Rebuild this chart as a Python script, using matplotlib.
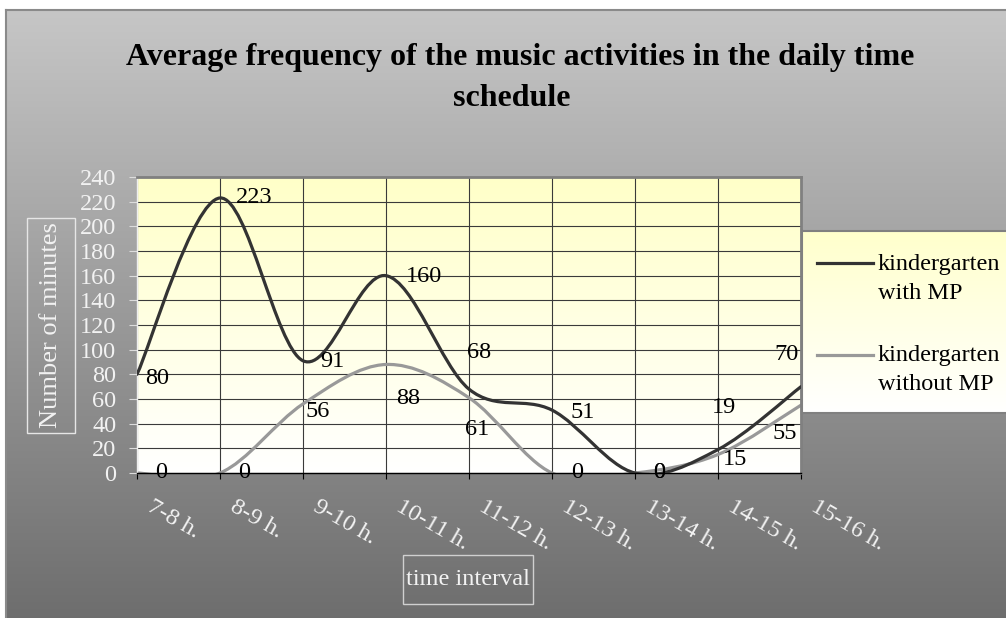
import numpy as np
import matplotlib
matplotlib.use("Agg")
import matplotlib.pyplot as plt
import matplotlib.transforms as mtransforms
from matplotlib.path import Path
from matplotlib.patches import PathPatch, Rectangle
from matplotlib.colors import LinearSegmentedColormap

W, H = 1006, 618

# data
intervals = ["7-8 h.", "8-9 h.", "9-10 h.", "10-11 h.", "11-12 h.",
             "12-13 h.", "13-14 h.", "14-15 h.", "15-16 h."]
with_mp = [80, 223, 91, 160, 68, 51, 0, 19, 70]
without_mp = [0, 0, 56, 88, 61, 0, 0, 15, 55]
series_names = ["kindergarten\nwith MP", "kindergarten\nwithout MP"]
y_ticks = list(range(0, 241, 20))

# where each value label sits, pixels from its point (dx, dy)
with_mp_offsets = [(20, -4), (34, 0), (29, -1), (38, -1), (10, 37),
                   (31, -2), (24, 0), (6, 42), (-14, 32)]
without_mp_offsets = [(24, 0), (24, 0), (15, -8), (22, -34), (8, -32),
                      (25, 0), (24, 0), (17, -5), (-16, -28)]

FONT = "Liberation Serif"
FS = 17.5
LIGHT = "#f2f2f2"


def px_rect(x0, y0, x1, y1):
    # pixel box (top-left origin) -> figure rect
    return [x0 / W, 1 - y1 / H, (x1 - x0) / W, (y1 - y0) / H]


def smooth_path(ys):
    # Excel-like smoothed line: cubic bezier through every point
    pts = np.column_stack([np.arange(len(ys)), ys]).astype(float)
    padded = np.vstack([pts[0], pts, pts[-1]])
    verts = [pts[0]]
    codes = [Path.MOVETO]
    for i in range(len(pts) - 1):
        p0, p1, p2, p3 = padded[i], padded[i + 1], padded[i + 2], padded[i + 3]
        verts += [p1 + (p2 - p0) / 6, p2 - (p3 - p1) / 6, p2]
        codes += [Path.CURVE4] * 3
    return Path(verts, codes)


def gradient(axis, top, bottom, extent):
    cmap = LinearSegmentedColormap.from_list("g", [top, bottom])
    axis.imshow(np.linspace(0, 1, 256).reshape(-1, 1), cmap=cmap, aspect="auto",
                extent=extent, origin="upper", zorder=0, interpolation="bilinear")


plt.rcParams["font.family"] = [FONT, "DejaVu Serif"]

fig = plt.figure(figsize=(W / 100, H / 100), dpi=100)
fig.patch.set_facecolor("white")

# chart area background
bg = fig.add_axes(px_rect(6, 10, W + 40, H + 40))
gradient(bg, "#c6c6c6", "#686868", (0, 1, 0, 1))
bg.set_xlim(0, 1)
bg.set_ylim(0, 1)
bg.set_xticks([])
bg.set_yticks([])
for side in ["right", "bottom"]:
    bg.spines[side].set_visible(False)
for side in ["top", "left"]:
    bg.spines[side].set_color("#8a8a8a")
    bg.spines[side].set_linewidth(1.5)

# title
fig.text(520 / W, 1 - 57 / H, "Average frequency of the music activities in the daily time",
         ha="center", va="center", fontsize=23, fontweight="bold", color="black")
fig.text(512 / W, 1 - 98 / H, "schedule",
         ha="center", va="center", fontsize=23, fontweight="bold", color="black")

# plot area
ax = fig.add_axes(px_rect(137, 177, 801, 473))
gradient(ax, "#ffffc8", "#ffffff", (0, len(intervals) - 1, 0, 240))
ax.set_xlim(0, len(intervals) - 1)
ax.set_ylim(0, 240)
ax.set_axisbelow(True)
ax.grid(True, color="#3a3a3a", linewidth=0.8)

ax.add_patch(PathPatch(smooth_path(with_mp), fill=False, edgecolor="#333333",
                       linewidth=2.3, zorder=3, capstyle="round"))
ax.add_patch(PathPatch(smooth_path(without_mp), fill=False, edgecolor="#999999",
                       linewidth=2.3, zorder=2, capstyle="round"))

for vals, offs in [(with_mp, with_mp_offsets), (without_mp, without_mp_offsets)]:
    for i, (v, (dx, dy)) in enumerate(zip(vals, offs)):
        ax.annotate(str(v), xy=(i, v), xytext=(dx, dy), textcoords="offset pixels",
                    ha="center", va="center", fontsize=FS, color="black",
                    annotation_clip=False, zorder=5)

ax.set_yticks(y_ticks)
ax.set_xticks(range(len(intervals)))
ax.set_xticklabels(intervals, rotation=-30, ha="left", va="top",
                   rotation_mode="anchor")
ax.tick_params(axis="y", direction="out", length=6, width=0.8, color="#dddddd",
               labelcolor=LIGHT, labelsize=FS, pad=9)
ax.tick_params(axis="x", direction="out", length=4.5, width=0.8, color="black",
               labelcolor=LIGHT, labelsize=FS, pad=12)
shift = mtransforms.ScaledTranslation(17 / 100, 0, fig.dpi_scale_trans)
for lab in ax.get_xticklabels():
    lab.set_transform(lab.get_transform() + shift)

ax.spines["top"].set_color("#808080")
ax.spines["top"].set_linewidth(2)
ax.spines["right"].set_color("#808080")
ax.spines["right"].set_linewidth(2)
ax.spines["left"].set_color("#eeeeee")
ax.spines["left"].set_linewidth(1)
ax.spines["bottom"].set_color("black")
ax.spines["bottom"].set_linewidth(1)

# axis titles in their boxes
fig.patches.append(Rectangle((27 / W, 1 - 433 / H), 48 / W, 215 / H, fill=False,
                             edgecolor="#e6e6e6", linewidth=1, transform=fig.transFigure))
fig.text(51 / W, 1 - 325.5 / H, "Number of minutes", rotation=90, ha="center",
         va="center", fontsize=19, color=LIGHT)
fig.patches.append(Rectangle((403 / W, 1 - 604 / H), 130 / W, 49 / H, fill=False,
                             edgecolor="#d0d0d0", linewidth=1, transform=fig.transFigure))
fig.text(468 / W, 1 - 579.5 / H, "time interval", ha="center", va="center",
         fontsize=FS, color=LIGHT)

# legend box (runs off the right edge like the original)
leg = fig.add_axes(px_rect(802, 231, 1040, 413))
leg.set_xlim(802, 1040)
leg.set_ylim(413, 231)
gradient(leg, "#ffffcc", "#ffffff", (802, 1040, 413, 231))
leg.set_xticks([])
leg.set_yticks([])
for s in leg.spines.values():
    s.set_color("#808080")
    s.set_linewidth(1.5)
for name, color, y_line, y_text in [(series_names[0], "#333333", 263, 279),
                                    (series_names[1], "#999999", 355, 370)]:
    leg.plot([817, 873], [y_line, y_line], color=color, linewidth=2.3)
    leg.text(878, y_text, name, ha="left", va="center", fontsize=FS,
             color="black", linespacing=1.5)

fig.savefig("out.png", dpi=100)
